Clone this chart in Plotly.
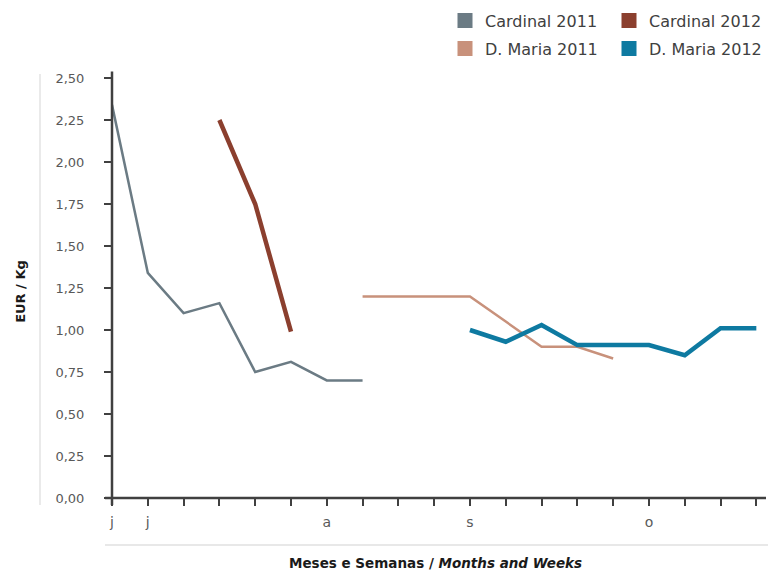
import plotly.graph_objects as go

weeks = list(range(19))
tick_text = ["j", "j", "", "", "", "", "a", "", "", "", "s", "", "", "", "", "o", "", "", ""]

cardinal_2011_x = [0, 1, 2, 3, 4, 5, 6, 7]
cardinal_2011 = [2.34, 1.34, 1.10, 1.16, 0.75, 0.81, 0.70, 0.70]

cardinal_2012_x = [3, 4, 5]
cardinal_2012 = [2.25, 1.75, 0.99]

dmaria_2011_x = [7, 8, 9, 10, 11, 12, 13, 14]
dmaria_2011 = [1.20, 1.20, 1.20, 1.20, 1.05, 0.90, 0.90, 0.83]

dmaria_2012_x = [10, 11, 12, 13, 14, 15, 16, 17, 18]
dmaria_2012 = [1.00, 0.93, 1.03, 0.91, 0.91, 0.91, 0.85, 1.01, 1.01]

y_ticks = [0, 0.25, 0.5, 0.75, 1.0, 1.25, 1.5, 1.75, 2.0, 2.25, 2.5]
y_text = ["0,00", "0,25", "0,50", "0,75", "1,00", "1,25", "1,50", "1,75", "2,00", "2,25", "2,50"]

FONT = "DejaVu Sans"
series = [
    ("Cardinal 2011", cardinal_2011_x, cardinal_2011, "#6b7b84", 2.5),
    ("Cardinal 2012", cardinal_2012_x, cardinal_2012, "#8b3f2e", 4.5),
    ("D. Maria 2011", dmaria_2011_x, dmaria_2011, "#c8917b", 2.5),
    ("D. Maria 2012", dmaria_2012_x, dmaria_2012, "#0e7aa1", 4.5),
]
legend_ids = ["legend", "legend2", "legend3", "legend4"]

fig = go.Figure()
for name, xs, ys, col, w in series:
    fig.add_trace(go.Scatter(x=xs, y=ys, mode="lines", name=name,
                             line=dict(color=col, width=w), showlegend=False))
for (name, xs, ys, col, w), lg in zip(series, legend_ids):
    fig.add_trace(go.Scatter(x=[None], y=[None], mode="markers", name=name,
                             marker=dict(symbol="square", size=15, color=col),
                             legend=lg, showlegend=True))

# page has an 8px body margin; figure coordinates are page coordinates minus 8
W, H = 768, 563
L, R, T, B = 104, 10, 70.3, 73
ph = H - T - B
pw = W - L - R

col_x = [437, 601]
row_top = [-4, 24]
legend_pos = [(col_x[0], row_top[0]), (col_x[1], row_top[0]),
              (col_x[0], row_top[1]), (col_x[1], row_top[1])]
legends = {}
for lg, (lx, ly) in zip(legend_ids, legend_pos):
    legends[lg] = dict(orientation="h", x=(lx - L) / pw, y=1 + (T - ly) / ph,
                       xanchor="left", yanchor="top", borderwidth=0,
                       font=dict(family=FONT, size=16, color="#404040"),
                       itemwidth=30, bgcolor="rgba(0,0,0,0)")

fig.update_layout(
    width=W, height=H,
    margin=dict(l=L, r=R, t=T, b=B, autoexpand=False),
    paper_bgcolor="white", plot_bgcolor="white",
    font=dict(family=FONT, size=13, color="#595959"),
    xaxis=dict(range=[0, 18.27], tickmode="array", tickvals=weeks, ticktext=tick_text,
               ticks="outside", ticklen=7, tickwidth=1.5, tickcolor="#404040",
               showgrid=False, zeroline=False, showline=False, automargin=False,
               tickfont=dict(size=14, color="#595959"), ticklabelstandoff=4),
    yaxis=dict(range=[0, 2.5], tickmode="array", tickvals=y_ticks, ticktext=y_text,
               ticks="outside", ticklen=7, tickwidth=1.5, tickcolor="#404040",
               showgrid=False, zeroline=False, showline=False, automargin=False,
               tickfont=dict(size=13, color="#595959"), ticklabelstandoff=17),
    showlegend=True,
    **legends,
)

shapes = [
    dict(type="line", xref="paper", yref="paper", x0=0, x1=0,
         y0=-7 / ph, y1=1 + 6.5 / ph, line=dict(color="#404040", width=2.5)),
    dict(type="line", xref="paper", yref="paper", x0=-7 / pw, x1=1,
         y0=0, y1=0, line=dict(color="#404040", width=2.5)),
    dict(type="line", xref="paper", yref="paper", x0=(32 - L) / pw, x1=(32 - L) / pw,
         y0=-7 / ph, y1=1 + 4 / ph, line=dict(color="#e3e3e3", width=1.5)),
    dict(type="line", xref="paper", yref="paper", x0=-7 / pw, x1=1 + 10 / pw,
         y0=-(537 - (H - B)) / ph, y1=-(537 - (H - B)) / ph,
         line=dict(color="#e8e8e8", width=2)),
]
fig.update_layout(shapes=shapes)

fig.add_annotation(text="<b>Meses e Semanas / <i>Months and Weeks</i></b>",
                   xref="paper", yref="paper", x=(427 - L) / pw, y=-(555 - (H - B)) / ph,
                   xanchor="center", yanchor="middle", showarrow=False,
                   font=dict(family=FONT, size=13.5, color="#1a1a1a"))
fig.add_annotation(text="<b>EUR / Kg</b>", textangle=-90,
                   xref="paper", yref="paper", x=(13 - L) / pw, y=1 - (284 - T) / ph,
                   xanchor="center", yanchor="middle", showarrow=False,
                   font=dict(family=FONT, size=13, color="#1a1a1a"))

fig.write_html("out.html")
